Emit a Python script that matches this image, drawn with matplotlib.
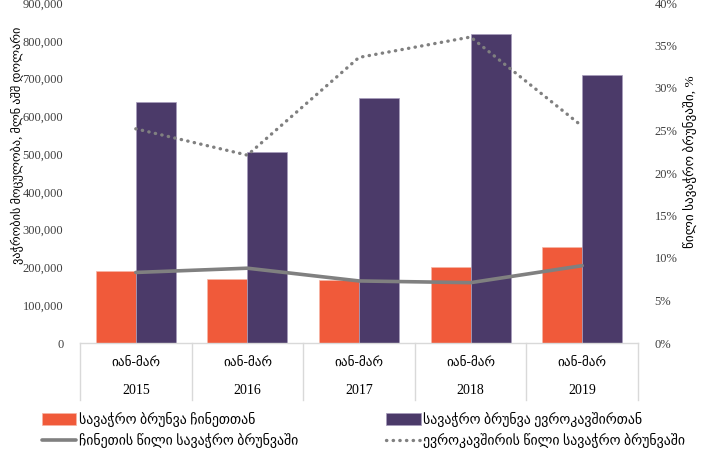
import numpy as np
import matplotlib
matplotlib.use('Agg')
import matplotlib.pyplot as plt
from matplotlib.ticker import FuncFormatter, MultipleLocator

plt.rcParams['font.family'] = ['Liberation Serif', 'DejaVu Sans']

# Values
years = ['2015', '2016', '2017', '2018', '2019']
period = 'იან-მარ'
china_trade = [190700, 169500, 167000, 200500, 255000]
eu_trade = [638000, 506000, 649000, 818500, 710000]
china_share = [8.3, 8.8, 7.3, 7.1, 9.1]
eu_share = [25.2, 22.1, 33.6, 36.0, 25.5]

lbl_china_bar = 'სავაჭრო ბრუნვა ჩინეთთან'
lbl_eu_bar = 'სავაჭრო ბრუნვა ევროკავშირთან'
lbl_china_line = 'ჩინეთის წილი სავაჭრო ბრუნვაში'
lbl_eu_line = 'ევროკავშირის წილი სავაჭრო ბრუნვაში'
ylabel_left = 'ვაჭრობის მოცულობა, მლნ აშშ დოლარი'
ylabel_right = 'წილი სავაჭრო ბრუნვაში, %'

orange = '#F05A3A'
purple = '#4B3A69'
grey = '#808080'
tick_col = '#404040'

W, H = 718, 450
fig = plt.figure(figsize=(W / 100, H / 100), dpi=100)
ax = fig.add_axes([80 / W, 1 - 343 / H, (638 - 80) / W, (343 - 3) / H])
ax2 = ax.twinx()

x = np.arange(len(years))
bw = 0.358
b1 = ax.bar(x - bw / 2, china_trade, bw, color=orange, edgecolor='#f6b5a6', linewidth=0.5,
            label=lbl_china_bar, zorder=2)
b2 = ax.bar(x + bw / 2, eu_trade, bw, color=purple, edgecolor='#a79cbc', linewidth=0.5,
            label=lbl_eu_bar, zorder=2)

l1, = ax2.plot(x, china_share, color=grey, lw=2.6, solid_capstyle='round',
               label=lbl_china_line, zorder=3)
l2, = ax2.plot(x, eu_share, color=grey, lw=2.4, linestyle=(0, (0.1, 1.9)),
               dash_capstyle='round', label=lbl_eu_line, zorder=3)

ax.set_xlim(-0.5, len(years) - 0.5)
ax.set_ylim(0, 900000)
ax2.set_ylim(0, 40)
ax.yaxis.set_major_locator(MultipleLocator(100000))
ax2.yaxis.set_major_locator(MultipleLocator(5))
ax.yaxis.set_major_formatter(FuncFormatter(lambda v, p: f'{int(v):,}'))
ax2.yaxis.set_major_formatter(FuncFormatter(lambda v, p: f'{int(v)}%'))

for a in (ax, ax2):
    for s in a.spines.values():
        s.set_visible(False)
    a.tick_params(axis='y', length=0, labelsize=9, colors=tick_col, pad=12)
ax.set_xticks([])
ax2.set_zorder(ax.get_zorder() + 1)
ax2.patch.set_visible(False)

ax.set_ylabel(ylabel_left, fontsize=8.8)
ax2.set_ylabel(ylabel_right, fontsize=9.5)
ax.yaxis.set_label_coords((24 - 80) / 558, (343 - 145) / 340)
ax2.yaxis.set_label_coords((683 - 80) / 558, (343 - 162) / 340)

# category table under the plot
trans = ax.get_xaxis_transform()
ax.plot([-0.5, len(years) - 0.5], [0, 0], color='#d9d9d9', lw=1, transform=trans, clip_on=False)
for b in np.arange(len(years) + 1) - 0.5:
    ax.plot([b, b], [0, -57 / 340], color='#d9d9d9', lw=1, transform=trans, clip_on=False)
for i, yr in enumerate(years):
    ax.text(i, -21 / 340, period, ha='center', va='center', fontsize=9.5, transform=trans)
    ax.text(i, -47 / 340, yr, ha='center', va='center', fontsize=10, transform=trans)

fig.legend([b1, l1, b2, l2], [lbl_china_bar, lbl_china_line, lbl_eu_bar, lbl_eu_line],
           ncol=2, loc='upper left', bbox_to_anchor=(36 / W, 1 - 406 / H),
           frameon=False, fontsize=10, handlelength=2.5, handleheight=0.9,
           handletextpad=0.2, columnspacing=6.3, labelspacing=0.45, borderaxespad=0)

fig.savefig('out.png', dpi=100)
